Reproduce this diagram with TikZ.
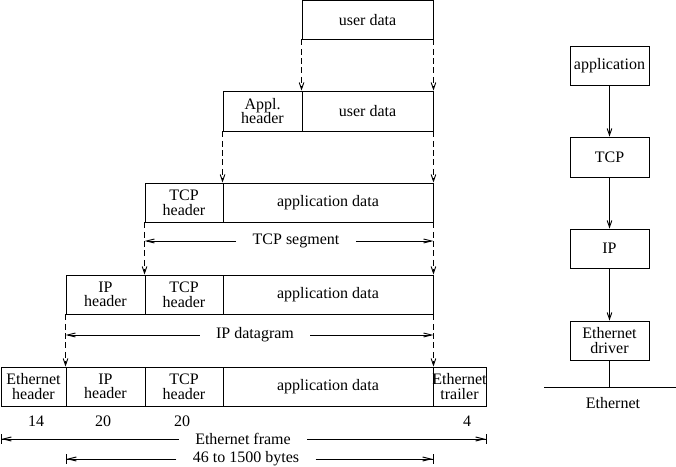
\documentclass[tikz,border=0pt]{standalone}
\usepackage{fontspec}
\setmainfont{Liberation Serif}
\usetikzlibrary{arrows.meta,fit}

\begin{document}
\begin{tikzpicture}[x=0.75pt,y=-0.75pt,line width=0.7pt,
  font={\fontsize{12}{11}\selectfont},
  cell/.style={draw,inner sep=0pt,label={[align=center]center:#1}},
  tip/.style={-{Straight Barb[length=5pt,width=3.5pt]}},
  copy/.style={tip,dash pattern=on 4.5pt off 2.5pt},
  span/.style={-{Straight Barb[length=6pt,width=3pt]}},
  spanbar/.style={-{Straight Barb[length=6pt,width=3pt]Bar[width=7pt]}},
  dim/.style={inner xsep=12pt,inner ysep=1pt}]
  \useasboundingbox (0,0) rectangle (676,467);

  % encapsulation, top to bottom
  \node[cell={user data},fit={(302,0.5) (433,39)}] (ud1) {};

  \node[cell={Appl.\\header},fit={(223,91) (302,131)}] (ah2) {};
  \node[cell={user data},fit={(302,91) (433,131)}] (ud2) {};

  \node[cell={TCP\\header},fit={(145,183) (223,222)}] (th3) {};
  \node[cell={application data},fit={(223,183) (433,222)}] (ad3) {};

  \node[cell={IP\\header},fit={(66,275) (145,314)}] (ih4) {};
  \node[cell={TCP\\header},fit={(145,275) (223,314)}] (th4) {};
  \node[cell={application data},fit={(223,275) (433,314)}] (ad4) {};

  \node[cell={Ethernet\\header},fit={(1,367) (66,406)}] (eh5) {};
  \node[cell={IP\\header},fit={(66,367) (145,406)}] (ih5) {};
  \node[cell={TCP\\header},fit={(145,367) (223,406)}] (th5) {};
  \node[cell={application data},fit={(223,367) (433,406)}] (ad5) {};
  \node[cell={Ethernet\\trailer},fit={(433,367) (486,406)}] (et5) {};

  \draw[copy] (ud1.south west) -- (ud2.north west);
  \draw[copy] (ud1.south east) -- (ud2.north east);
  \draw[copy] (ah2.south west) -- (ad3.north west);
  \draw[copy] (ud2.south east) -- (ad3.north east);
  \draw[copy] (th3.south west) -- (th4.north west);
  \draw[copy] (ad3.south east) -- (ad4.north east);
  \draw[copy] (ih4.south west) -- (ih5.north west);
  \draw[copy] (ad4.south east) -- (ad5.north east);

  \node[dim] (tcpseg) at (296,241) {TCP segment};
  \draw[span] (tcpseg.west) -- (tcpseg.west -| th3.west);
  \draw[span] (tcpseg.east) -- (tcpseg.east -| ad3.east);

  \node[dim] (ipdg) at (255,335) {IP datagram};
  \draw[span] (ipdg.west) -- (ipdg.west -| ih4.west);
  \draw[span] (ipdg.east) -- (ipdg.east -| ad4.east);

  \node (n14) at (36,421) {14};
  \node (n20a) at (103,421) {20};
  \node (n20b) at (182,421) {20};
  \node (n4) at (467,421) {4};

  \node[dim] (ethf) at (243,439) {Ethernet frame};
  \draw[spanbar] (ethf.west) -- (ethf.west -| eh5.west);
  \draw[spanbar] (ethf.east) -- (ethf.east -| et5.east);

  \node[dim] (bytes) at (246,459) {46 to 1500 bytes};
  \draw[spanbar] (bytes.west) -- (bytes.west -| ih5.west);
  \draw[spanbar] (bytes.east) -- (bytes.east -| ad5.east);

  % protocol stack
  \node[cell={application},fit={(570,46) (649,85)}] (app) {};
  \node[cell={TCP},fit={(570,137) (649,177)}] (tcp) {};
  \node[cell={IP},fit={(570,229) (649,268)}] (ip) {};
  \node[cell={Ethernet\\driver},fit={(570,321) (649,360)}] (drv) {};
  \draw[tip] (app) -- (tcp);
  \draw[tip] (tcp) -- (ip);
  \draw[tip] (ip) -- (drv);

  \coordinate (wireL) at (544,387);
  \coordinate (wireR) at (676,387);
  \draw (wireL) -- (wireR);
  \draw (drv) -- (drv.south |- wireL);
  \node (wire) at (613,403) {Ethernet};
\end{tikzpicture}
\end{document}
